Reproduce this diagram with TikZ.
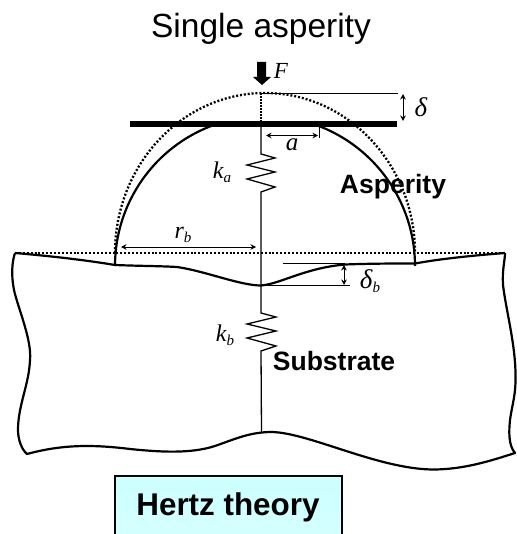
\documentclass[tikz,border=0pt]{standalone}
\usepackage{fontspec}
\setmainfont{Liberation Sans}
\newfontfamily\mathser{Liberation Serif}
\usetikzlibrary{arrows.meta,calc}
\definecolor{boxcyan}{RGB}{204,255,255}
\definecolor{boxcyanb}{RGB}{216,255,255}
\tikzset{
  plain/.style={line width=1.3pt,black},
  thick line/.style={line width=2.2pt,black},
  thin line/.style={line width=1pt,black},
  dots/.style={line width=2.3pt,black,dash pattern=on 2pt off 1.9pt},
  dim/.style={line width=1pt,black,{Stealth[length=5.5pt,width=5.5pt]}-{Stealth[length=5.5pt,width=5.5pt]}},
  lab/.style={font=\bfseries\fontsize{26.5}{27}\selectfont,inner sep=0pt},
}
\newcommand{\symtxt}[3]{{\mathser\itshape\fontsize{#1}{#1}\selectfont #2\raisebox{-4pt}{\fontsize{15}{15}\selectfont #3}}}
\begin{document}
\begin{tikzpicture}[x=1pt,y=-1pt]
\useasboundingbox (0,0) rectangle (516,534);
\fill[white] (0,0) rectangle (516,534);
% named anchors
\coordinate (top) at (261,93.5);
\coordinate (barL) at (130,124);
\coordinate (barR) at (397,124);
\coordinate (barC) at (261,124);
\coordinate (barC2) at (261,126);
\coordinate (sa1) at (261,154);
\coordinate (sa2) at (261,192);
\coordinate (sb1) at (261,313);
\coordinate (sb2) at (261,351);
\coordinate (dip) at (261,285.5);
\coordinate (bot) at (261.5,432);
\coordinate (aspC) at (265,266);
% title
\node[font=\fontsize{33.5}{34}\selectfont,inner sep=0pt] (title) at (261,29) {Single asperity};
% force arrow
\fill[black] (257,62) -- (266,62) -- (266,77) -- (271,77) -- (262,85) -- (253,77) -- (257,77) -- cycle;
\node[font=\mathser\itshape\fontsize{23}{23}\selectfont,inner sep=0pt] (F) at (281,71) {F};
% dotted undeformed asperity
\draw[dots] (115,253) arc[start angle=180,end angle=360,x radius=150,y radius=160];
\draw[dots] (15,253) -- (505,253);
\draw[line width=1.2pt,dash pattern=on 1.5pt off 1.5pt] (top) -- (barC);
% asperity outline
\draw[thick line] (aspC) ++(250:150) arc[start angle=250,end angle=180,radius=150];
\draw[thick line] (aspC) ++(290:150) arc[start angle=290,end angle=360,radius=150];
% bar
\draw[line width=5.6pt] (barL) -- (barR);
% delta
\draw[thin line] (top) -- (398,93.5);
\draw[dim] (403,94) -- (403,121);
\node[font=\mathser\itshape\fontsize{27}{27}\selectfont,inner sep=0pt] (delta) at (421,107) {δ};
% a
\draw[dim] (266,135.5) -- (318,135.5);
\draw[line width=0.8pt] (319.5,126) -- (319.5,138);
\node[font=\mathser\itshape\fontsize{25}{25}\selectfont,inner sep=0pt] (a) at (292,145) {a};
% centre line + springs
\draw[plain] (barC2) -- (sa1) -- (275,158) -- (247,165) -- (275,172) -- (247,179) -- (275,187) -- (sa2) -- (sb1)
  -- (276,317) -- (247,324) -- (276,331) -- (247,338) -- (276,346) -- (sb2) -- (bot);
\node[inner sep=0pt] (ka) at (222,172) {\symtxt{24}{k}{a}};
\node[inner sep=0pt] (kb) at (225,335) {\symtxt{24}{k}{b}};
\node[lab] (asp) at (393,187) {Asperity};
\node[lab] (subs) at (334,361) {Substrate};
% r_b
\draw[dim] (121,247) -- (256,247);
\node[inner sep=0pt] (rb) at (183,235) {\symtxt{24}{r}{b}};
% substrate outline
\draw[thick line,line join=round]
  (15,253) .. controls (50,256) and (85,260) .. (115,265)
  .. controls (140,266) and (160,266) .. (177,267)
  .. controls (205,271) and (240,285.5) .. (dip)
  .. controls (280,284) and (305,268) .. (345,264.5)
  .. controls (370,263.5) and (395,263.5) .. (415,263.5)
  .. controls (445,258) and (480,255) .. (505,253);
\draw[thick line,line join=round]
  (15,253) .. controls (12,262) and (11,275) .. (14,290)
  .. controls (18,308) and (32,340) .. (30,360)
  .. controls (29,385) and (18,405) .. (18,430)
  .. controls (18,440) and (22,450) .. (27,454)
  .. controls (60,445) and (90,444) .. (130,449)
  .. controls (160,452) and (190,454) .. (215,446)
  .. controls (235,439) and (250,432) .. (272,432)
  .. controls (310,433) and (380,470) .. (435,469.5)
  .. controls (465,469) and (490,461) .. (515,453)
  .. controls (508,445) and (509,430) .. (510,420)
  .. controls (512,405) and (516,395) .. (515.5,375)
  .. controls (515.5,345) and (506,310) .. (503,285)
  .. controls (502,270) and (505,260) .. (505,253);
% delta_b
\draw[thin line] (283,263.5) -- (345,263.5);
\draw[thin line] (dip) -- (350,285.5);
\draw[dim] (344,265) -- (344,285);
\node[inner sep=0pt] (db) at (370,281) {\symtxt{27}{δ}{b}};
% box
\node[draw=black,line width=1.3pt,top color=boxcyan,bottom color=boxcyanb,minimum width=227pt,minimum height=80pt,inner sep=0pt] (box) at (228.5,516) {};
\node[font=\bfseries\fontsize{31.4}{32}\selectfont,inner sep=0pt] (hertz) at (228,507) {Hertz theory};
\end{tikzpicture}
\end{document}
